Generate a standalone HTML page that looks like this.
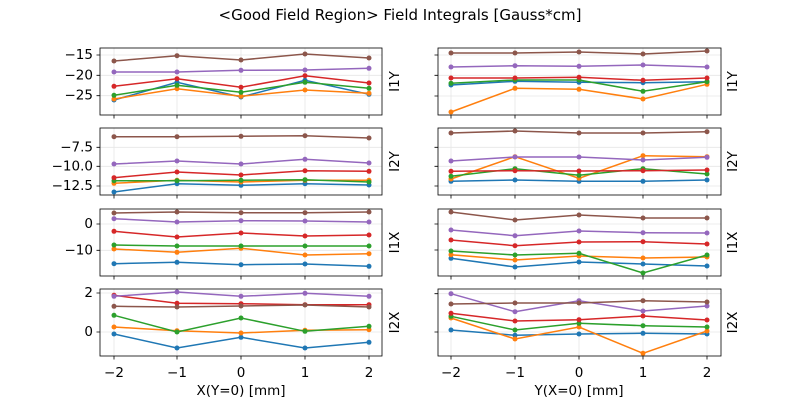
<!DOCTYPE html>
<html><head><meta charset="utf-8"><style>
body{margin:0;background:#fff;}
svg{display:block;font-family:"DejaVu Sans","Liberation Sans",sans-serif;}
</style></head><body>
<svg width="800" height="400" viewBox="0 0 800 400" xmlns="http://www.w3.org/2000/svg">
<defs>
<marker id="m0" viewBox="0 0 6 6" refX="3" refY="3" markerWidth="6" markerHeight="6" markerUnits="userSpaceOnUse"><circle cx="3" cy="3" r="2.5" fill="#1f77b4"/></marker>
<marker id="m1" viewBox="0 0 6 6" refX="3" refY="3" markerWidth="6" markerHeight="6" markerUnits="userSpaceOnUse"><circle cx="3" cy="3" r="2.5" fill="#ff7f0e"/></marker>
<marker id="m2" viewBox="0 0 6 6" refX="3" refY="3" markerWidth="6" markerHeight="6" markerUnits="userSpaceOnUse"><circle cx="3" cy="3" r="2.5" fill="#2ca02c"/></marker>
<marker id="m3" viewBox="0 0 6 6" refX="3" refY="3" markerWidth="6" markerHeight="6" markerUnits="userSpaceOnUse"><circle cx="3" cy="3" r="2.5" fill="#d62728"/></marker>
<marker id="m4" viewBox="0 0 6 6" refX="3" refY="3" markerWidth="6" markerHeight="6" markerUnits="userSpaceOnUse"><circle cx="3" cy="3" r="2.5" fill="#9467bd"/></marker>
<marker id="m5" viewBox="0 0 6 6" refX="3" refY="3" markerWidth="6" markerHeight="6" markerUnits="userSpaceOnUse"><circle cx="3" cy="3" r="2.5" fill="#8c564b"/></marker>
</defs>
<style>
.g{stroke:#e6e6e6;stroke-width:0.8;fill:none}
.t{stroke:#000;stroke-width:0.8}
.ax{fill:none;stroke:#000;stroke-width:0.8}
.s0{fill:none;stroke:#1f77b4;stroke-width:1.5;marker-start:url(#m0);marker-mid:url(#m0);marker-end:url(#m0)}
.s1{fill:none;stroke:#ff7f0e;stroke-width:1.5;marker-start:url(#m1);marker-mid:url(#m1);marker-end:url(#m1)}
.s2{fill:none;stroke:#2ca02c;stroke-width:1.5;marker-start:url(#m2);marker-mid:url(#m2);marker-end:url(#m2)}
.s3{fill:none;stroke:#d62728;stroke-width:1.5;marker-start:url(#m3);marker-mid:url(#m3);marker-end:url(#m3)}
.s4{fill:none;stroke:#9467bd;stroke-width:1.5;marker-start:url(#m4);marker-mid:url(#m4);marker-end:url(#m4)}
.s5{fill:none;stroke:#8c564b;stroke-width:1.5;marker-start:url(#m5);marker-mid:url(#m5);marker-end:url(#m5)}
text{font-size:13.5px;fill:#000}
.yl{text-anchor:end;dominant-baseline:central}
.xl{text-anchor:middle}
</style>
<text x="400" y="20" class="xl" style="font-size:15px">&lt;Good Field Region&gt; Field Integrals [Gauss*cm]</text>

<g class="g">
<path d="M114,48V115M177,48V115M241,48V115M305,48V115M369,48V115"/>
<path d="M114,128V195M177,128V195M241,128V195M305,128V195M369,128V195"/>
<path d="M114,209V276M177,209V276M241,209V276M305,209V276M369,209V276"/>
<path d="M114,289V356M177,289V356M241,289V356M305,289V356M369,289V356"/>
<path d="M451,48V115M515,48V115M579,48V115M643,48V115M707,48V115"/>
<path d="M451,128V195M515,128V195M579,128V195M643,128V195M707,128V195"/>
<path d="M451,209V276M515,209V276M579,209V276M643,209V276M707,209V276"/>
<path d="M451,289V356M515,289V356M579,289V356M643,289V356M707,289V356"/>
<path d="M100,55H382M100,75.3H382M100,95.7H382"/>
<path d="M100,147.3H382M100,166.3H382M100,186H382"/>
<path d="M100,224H382M100,250.3H382"/>
<path d="M100,293H382M100,332H382"/>
<path d="M438,55H721M438,75.3H721M438,96H721"/>
<path d="M438,147.3H721M438,166.3H721M438,186H721"/>
<path d="M438,224H721M438,250H721"/>
<path d="M438,293.7H721M438,332H721"/>
</g>

<polyline class="s0" points="114,100 177,82.3 241,97 305,80.3 369,94.3"/>
<polyline class="s1" points="114,99 177,88.7 241,96.3 305,90 369,93.3"/>
<polyline class="s2" points="114,95.3 177,85.3 241,92.3 305,82.3 369,88.3"/>
<polyline class="s3" points="114,86.3 177,78.7 241,87.3 305,75.7 369,83"/>
<polyline class="s4" points="114,72 177,72 241,70.3 305,70 369,68.3"/>
<polyline class="s5" points="114,61 177,55.7 241,60 305,54 369,58"/>

<polyline class="s0" points="114,192 177,183.7 241,185.3 305,183.7 369,185"/>
<polyline class="s1" points="114,183.3 177,180.3 241,182 305,180.3 369,180.3"/>
<polyline class="s2" points="114,180.7 177,180.7 241,180.3 305,179.7 369,182"/>
<polyline class="s3" points="114,177.7 177,172 241,175 305,170.7 369,171.3"/>
<polyline class="s4" points="114,164 177,161 241,164 305,159.3 369,163"/>
<polyline class="s5" points="114,136.7 177,136.7 241,136.3 305,135.7 369,138"/>

<polyline class="s0" points="114,263.7 177,262.3 241,264.7 305,264 369,266.3"/>
<polyline class="s1" points="114,249 177,252.3 241,248.3 305,255 369,253.7"/>
<polyline class="s2" points="114,245 177,246 241,246 305,246 369,246"/>
<polyline class="s3" points="114,231.3 177,237 241,233 305,236 369,235"/>
<polyline class="s4" points="114,218.7 177,222 241,220.7 305,221 369,222"/>
<polyline class="s5" points="114,213 177,212 241,212.7 305,212.7 369,212"/>

<polyline class="s0" points="114,334 177,348 241,337.3 305,348 369,342.3"/>
<polyline class="s1" points="114,327 177,330.7 241,333 305,330.3 369,329.7"/>
<polyline class="s2" points="114,315.3 177,332 241,318 305,331.3 369,326.3"/>
<polyline class="s3" points="114,295.3 177,303.3 241,303.7 305,304.7 369,304.7"/>
<polyline class="s4" points="114,296.3 177,292 241,296.3 305,293.3 369,296.3"/>
<polyline class="s5" points="114,306.3 177,307 241,306 305,305 369,307"/>

<polyline class="s0" points="451,85 515,81.3 579,82.3 643,82.7 707,81.7"/>
<polyline class="s1" points="451,112 515,88.3 579,89.3 643,99 707,84.3"/>
<polyline class="s2" points="451,83.3 515,80 579,80 643,91.3 707,81.7"/>
<polyline class="s3" points="451,78 515,78 579,77.3 643,80.3 707,78"/>
<polyline class="s4" points="451,67 515,65.7 579,66.3 643,65 707,67"/>
<polyline class="s5" points="451,53 515,53 579,52 643,54 707,51"/>

<polyline class="s0" points="451,181.3 515,180 579,181.3 643,181.3 707,180"/>
<polyline class="s1" points="451,179 515,156.7 579,178.3 643,155.7 707,156.7"/>
<polyline class="s2" points="451,176.3 515,168.7 579,175.3 643,168.7 707,174"/>
<polyline class="s3" points="451,171.3 515,170.7 579,171 643,170.7 707,170"/>
<polyline class="s4" points="451,161 515,157 579,157 643,160 707,157.3"/>
<polyline class="s5" points="451,133 515,131 579,133 643,133 707,131.7"/>

<polyline class="s0" points="451,258.3 515,267 579,262 643,264 707,266"/>
<polyline class="s1" points="451,254.7 515,260 579,256 643,258 707,257"/>
<polyline class="s2" points="451,251 515,255 579,253.3 643,273 707,255"/>
<polyline class="s3" points="451,240 515,245.7 579,242 643,241.7 707,244"/>
<polyline class="s4" points="451,230 515,235.7 579,231 643,232.7 707,233"/>
<polyline class="s5" points="451,212 515,220 579,215 643,218 707,218"/>

<polyline class="s0" points="451,330 515,335.3 579,334 643,333.3 707,334"/>
<polyline class="s1" points="451,318 515,339 579,327 643,353.3 707,331"/>
<polyline class="s2" points="451,316.3 515,330 579,323.3 643,325.7 707,327"/>
<polyline class="s3" points="451,313.3 515,321 579,319.7 643,316 707,320"/>
<polyline class="s4" points="451,293.7 515,311.7 579,300.7 643,311 707,306"/>
<polyline class="s5" points="451,304 515,303 579,303 643,300.7 707,302"/>

<rect class="ax" x="100" y="48" width="282" height="67"/>
<rect class="ax" x="100" y="128" width="282" height="67"/>
<rect class="ax" x="100" y="209" width="282" height="67"/>
<rect class="ax" x="100" y="289" width="282" height="67"/>
<rect class="ax" x="438" y="48" width="283" height="67"/>
<rect class="ax" x="438" y="128" width="283" height="67"/>
<rect class="ax" x="438" y="209" width="283" height="67"/>
<rect class="ax" x="438" y="289" width="283" height="67"/>

<g class="t">
<path d="M114,115v3.5M177,115v3.5M241,115v3.5M305,115v3.5M369,115v3.5"/>
<path d="M114,195v3.5M177,195v3.5M241,195v3.5M305,195v3.5M369,195v3.5"/>
<path d="M114,276v3.5M177,276v3.5M241,276v3.5M305,276v3.5M369,276v3.5"/>
<path d="M114,356v3.5M177,356v3.5M241,356v3.5M305,356v3.5M369,356v3.5"/>
<path d="M451,115v3.5M515,115v3.5M579,115v3.5M643,115v3.5M707,115v3.5"/>
<path d="M451,195v3.5M515,195v3.5M579,195v3.5M643,195v3.5M707,195v3.5"/>
<path d="M451,276v3.5M515,276v3.5M579,276v3.5M643,276v3.5M707,276v3.5"/>
<path d="M451,356v3.5M515,356v3.5M579,356v3.5M643,356v3.5M707,356v3.5"/>
<path d="M100,55h-3.5M100,75.3h-3.5M100,95.7h-3.5M100,147.3h-3.5M100,166.3h-3.5M100,186h-3.5M100,224h-3.5M100,250.3h-3.5M100,293h-3.5M100,332h-3.5"/>
<path d="M438,55h-3.5M438,75.3h-3.5M438,96h-3.5M438,147.3h-3.5M438,166.3h-3.5M438,186h-3.5M438,224h-3.5M438,250h-3.5M438,293.7h-3.5M438,332h-3.5"/>
</g>

<text class="yl" x="93" y="55">−15</text>
<text class="yl" x="93" y="75.3">−20</text>
<text class="yl" x="93" y="95.7">−25</text>
<text class="yl" x="93" y="147.3">−7.5</text>
<text class="yl" x="93" y="166.3">−10.0</text>
<text class="yl" x="93" y="186">−12.5</text>
<text class="yl" x="93" y="224">0</text>
<text class="yl" x="93" y="250.3">−10</text>
<text class="yl" x="93" y="293">2</text>
<text class="yl" x="93" y="332">0</text>

<text class="xl" x="114" y="377">−2</text>
<text class="xl" x="177" y="377">−1</text>
<text class="xl" x="241" y="377">0</text>
<text class="xl" x="305" y="377">1</text>
<text class="xl" x="369" y="377">2</text>
<text class="xl" x="451" y="377">−2</text>
<text class="xl" x="515" y="377">−1</text>
<text class="xl" x="579" y="377">0</text>
<text class="xl" x="643" y="377">1</text>
<text class="xl" x="707" y="377">2</text>
<text class="xl" x="241" y="395">X(Y=0) [mm]</text>
<text class="xl" x="579" y="395">Y(X=0) [mm]</text>

<text class="xl" transform="translate(399,81.5) rotate(-90)">I1Y</text>
<text class="xl" transform="translate(399,161.5) rotate(-90)">I2Y</text>
<text class="xl" transform="translate(399,242.5) rotate(-90)">I1X</text>
<text class="xl" transform="translate(399,322.5) rotate(-90)">I2X</text>
<text class="xl" transform="translate(737,81.5) rotate(-90)">I1Y</text>
<text class="xl" transform="translate(737,161.5) rotate(-90)">I2Y</text>
<text class="xl" transform="translate(737,242.5) rotate(-90)">I1X</text>
<text class="xl" transform="translate(737,322.5) rotate(-90)">I2X</text>
</svg>
</body></html>
